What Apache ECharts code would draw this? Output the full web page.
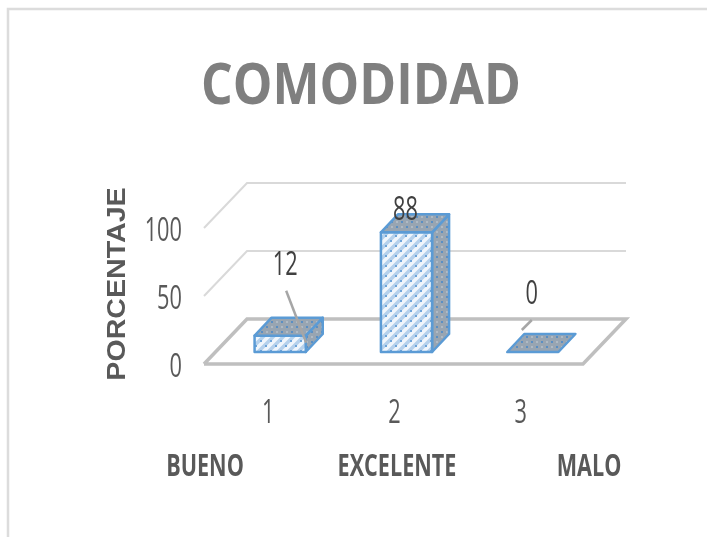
<!DOCTYPE html>
<html><head><meta charset="utf-8">
<style>html,body{margin:0;padding:0;background:#fff}#c{width:707px;height:537px}</style>
<script src="https://cdn.jsdelivr.net/npm/echarts@6/dist/echarts.min.js"></script>
</head><body><div id="c"></div>
<script>
const tickLabels = ['1', '2', '3'];
const categories = ['BUENO', 'EXCELENTE', 'MALO'];
const values = [12, 88, 0];
const yTicks = [0, 50, 100];

function pattern(bg, draw) {
  const c = document.createElement('canvas');
  c.width = 10; c.height = 10;
  const g = c.getContext('2d');
  g.fillStyle = bg; g.fillRect(0, 0, 10, 10);
  draw(g);
  return { image: c, repeat: 'repeat' };
}
const frontFill = pattern('#b5d1ec', g => {
  g.strokeStyle = '#f0f6fc'; g.lineWidth = 3.6;
  g.beginPath();
  g.moveTo(-2, 7); g.lineTo(7, -2);
  g.moveTo(3, 12); g.lineTo(12, 3);
  g.stroke();
  g.fillStyle = '#6ea5d9';
  g.fillRect(0, 0, 2, 2); g.fillRect(5, 5, 2, 2);
});
const darkFill = pattern('#98a5b2', g => {
  g.fillStyle = '#5a8fc4';
  g.fillRect(1, 1, 2, 2); g.fillRect(6, 6, 2, 2);
  g.fillStyle = '#b0bac4';
  g.fillRect(6, 1, 2, 2); g.fillRect(1, 6, 2, 2);
});

const BLUE = '#5b9bd5';
const FONT = 'Open Sans';
const NARROW = 0.68;
const FLOOR = [43, -45], SIDE = [17, -18], INSET = [13, -12];
const labelOffset = [[5, -70], [-1, -21], [-1, -57]];
const leaders = [[[6, -45], [26, 7]], null, [[-1, -32], [-11, -22]]];

function label(text, x, y, o) {
  return Object.assign({ type: 'text', x, y, scaleX: NARROW,
    style: Object.assign({ text, fill: '#595959', fontFamily: FONT, fontSize: 32, align: 'center', verticalAlign: 'middle' }, o && o.style) },
    o && o.el);
}

const chart = echarts.init(document.getElementById('c'), null, { renderer: 'canvas' });
chart.setOption({
  animation: false,
  backgroundColor: '#fff',
  graphic: [
    { type: 'polyline', shape: { points: [[8, 537], [8, 9], [707, 9]] }, style: { stroke: '#dcdcdc', lineWidth: 2.5, fill: null } },
    { type: 'text', x: 361, y: 87, scaleX: 0.86,
      style: { text: 'COMODIDAD', fontFamily: FONT, fontWeight: 'bold', fontSize: 58, fill: '#7f7f7f', align: 'center', verticalAlign: 'middle' } },
    { type: 'text', x: 118, y: 284, rotation: Math.PI / 2, scaleX: 1.1,
      style: { text: 'PORCENTAJE', fontFamily: 'Liberation Sans', fontWeight: 'bold', fontSize: 26, fill: '#595959', align: 'center', verticalAlign: 'middle' } }
  ],
  grid: [
    { left: 204, width: 379, top: 228, height: 136 },
    { left: 109, width: 576, top: 228, height: 136 }
  ],
  xAxis: [
    { type: 'category', gridIndex: 0, data: tickLabels, axisLine: { show: false }, axisTick: { show: false }, axisLabel: { show: false } },
    { type: 'category', gridIndex: 1, data: categories, axisLine: { show: false }, axisTick: { show: false }, axisLabel: { show: false } }
  ],
  yAxis: [
    { type: 'value', gridIndex: 0, min: 0, max: 100, interval: 50,
      axisLine: { show: false }, axisTick: { show: false }, splitLine: { show: false }, axisLabel: { show: false } },
    { type: 'value', gridIndex: 1, min: 0, max: 100, show: false }
  ],
  series: [
    { type: 'custom', xAxisIndex: 0, yAxisIndex: 0, silent: true, z: 1, data: yTicks.map(v => [v]),
      renderItem(params, api) {
        const v = api.value(0), y = api.coord([0, v])[1];
        const x0 = params.coordSys.x, x1 = x0 + params.coordSys.width;
        const floor = v === 0;
        const pts = [[x0, y], [x0 + FLOOR[0], y + FLOOR[1]], [x1 + FLOOR[0], y + FLOOR[1]]];
        if (floor) pts.push([x1, y], [x0, y]);
        return { type: 'group', children: [
          { type: 'polyline', shape: { points: pts },
            style: { stroke: floor ? '#bfbfbf' : '#d9d9d9', lineWidth: floor ? 3.5 : 2, fill: null } },
          label(String(v), x0 - 22, y + 4, { style: { align: 'right' } })
        ] };
      } },
    { type: 'custom', xAxisIndex: 0, yAxisIndex: 0, silent: true, z: 1, data: tickLabels.map((t, i) => [i]),
      renderItem(params, api) {
        const i = api.value(0), p = api.coord([i, 0]);
        return label(tickLabels[i], p[0] + 1, p[1] + 50);
      } },
    { type: 'custom', xAxisIndex: 1, yAxisIndex: 1, silent: true, z: 1, data: categories.map((t, i) => [i]),
      renderItem(params, api) {
        const i = api.value(0), p = api.coord([i, 0]);
        return label(categories[i], p[0], p[1] + 103, { el: { scaleX: 0.72 }, style: { fontWeight: 'bold', fontSize: 30 } });
      } },
    { type: 'custom', name: 'COMODIDAD', xAxisIndex: 0, yAxisIndex: 0, silent: true, z: 2,
      data: values.map((v, i) => [i, v]),
      renderItem(params, api) {
        const i = api.value(0), v = api.value(1);
        const base = api.coord([i, 0]), top = api.coord([i, v]);
        const w = api.size([1, 0])[0] * 0.405;
        const xl = base[0] - w / 2 + INSET[0], xr = xl + w;
        const yb = base[1] + INSET[1], yt = top[1] + INSET[1];
        const line = { stroke: BLUE, lineWidth: 2.5, lineJoin: 'round' };
        const poly = (pts, fill) => ({ type: 'polygon', shape: { points: pts }, style: Object.assign({ fill }, line) });
        const children = [];
        if (v > 0) {
          children.push(poly([[xr, yb], [xr + SIDE[0], yb + SIDE[1]], [xr + SIDE[0], yt + SIDE[1]], [xr, yt]], darkFill));
          children.push(poly([[xl, yb], [xr, yb], [xr, yt], [xl, yt]], frontFill));
        }
        children.push(poly([[xl, yt], [xr, yt], [xr + SIDE[0], yt + SIDE[1]], [xl + SIDE[0], yt + SIDE[1]]], darkFill));
        const cx = (xl + xr) / 2;
        const lead = leaders[i];
        if (lead) children.push({ type: 'line',
          shape: { x1: cx + lead[0][0], y1: yt + lead[0][1], x2: cx + lead[1][0], y2: yt + lead[1][1] },
          style: { stroke: '#a6a6a6', lineWidth: 2.5 } });
        children.push(label(String(v), cx + labelOffset[i][0], yt + labelOffset[i][1], { style: { fill: '#404040' } }));
        return { type: 'group', children };
      } }
  ]
});
</script></body></html>
